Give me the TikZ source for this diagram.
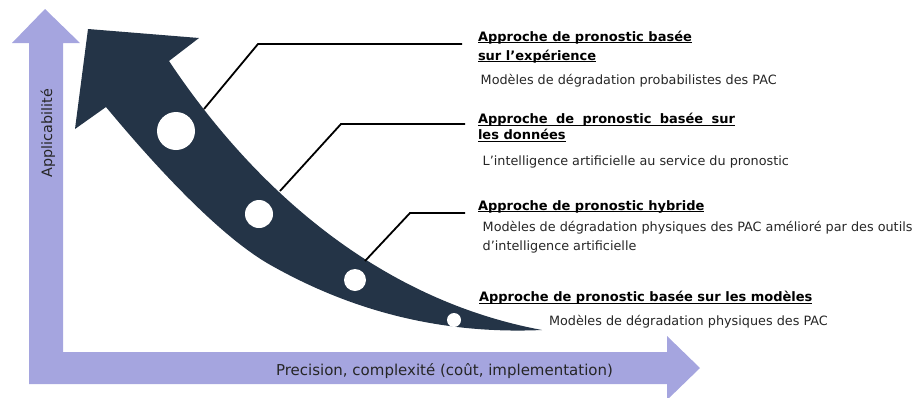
\documentclass[tikz,border=0pt]{standalone}
\usepackage{fontspec}
\setmainfont{DejaVu Sans}
\definecolor{navy}{HTML}{243447}
\definecolor{lav}{HTML}{A5A5DF}
\definecolor{txt}{HTML}{262626}
\newcommand\myul[1]{\setbox0\hbox{#1}\rlap{\rule[-2.2pt]{\wd0}{0.9pt}}\box0}
\begin{document}
\begin{tikzpicture}[x=1pt,y=-1pt,
  every node/.style={inner sep=0pt,outer sep=0pt},
  head/.style={anchor=base west,font=\bfseries\fontsize{13}{15}\selectfont,text=black},
  desc/.style={anchor=base west,font=\fontsize{12.8}{15}\selectfont,text=txt},
  conn/.style={draw=black,line width=1.8pt},
  dot/.style={circle,fill=white,draw=none}]
\useasboundingbox (0,0) rectangle (919,397);
% L-shaped axes
\fill[lav] (45,9) -- (80,43) -- (63,43) -- (63,352) -- (667,352) -- (667,336)
  -- (700,368) -- (667,400) -- (667,384) -- (29,384) -- (29,43) -- (12,43) -- cycle;
\node[anchor=base west,rotate=90,font=\fontsize{14.3}{16}\selectfont,text=txt] (ylab) at (52,177) {Applicabilité};
\node[anchor=base west,font=\fontsize{15}{17}\selectfont,text=txt] (xlab) at (276,375) {Precision, complexité (coût, implementation)};
% big curved arrow
\fill[navy] (106,107) -- (75,129) -- (88,29) -- (199,38) -- (169,61)
  .. controls (255,190) and (380,300) .. (542,330)
  .. controls (430,335) and (340,305) .. (267,263)
  .. controls (220,235) and (160,172) .. (106,107) -- cycle;
\node[dot,minimum size=38pt] (d1) at (176,131) {};
\node[dot,minimum size=28pt] (d2) at (259,214) {};
\node[dot,minimum size=22pt] (d3) at (355,280) {};
\node[dot,minimum size=14pt] (d4) at (454,320) {};
% texts
\node[head] (h1a) at (478,41) {\myul{Approche de pronostic basée}};
\node[head] (h1b) at (478,60) {\myul{sur l’expérience}};
\node[desc] (t1) at (480.7,84.3) {Modèles de dégradation probabilistes des PAC};
\node[head] (h2a) at (478,123.3) {\myul{\makebox[257pt][s]{Approche de pronostic basée sur}}};
\node[head] (h2b) at (478,139.3) {\myul{les données}};
\node[desc] (t2) at (482.7,165.7) {L’intelligence artificielle au service du pronostic};
\node[head] (h3) at (478,210) {\myul{Approche de pronostic hybride}};
\node[desc] (t3a) at (482.7,231) {Modèles de dégradation physiques des PAC amélioré par des outils};
\node[desc] (t3b) at (482.7,250) {d’intelligence artificielle};
\node[head] (h4) at (479,301.7) {\myul{Approche de pronostic basée sur les modèles}};
\node[desc] (t4) at (549,325) {Modèles de dégradation physiques des PAC};
% connectors
\coordinate (p1) at (204,109); \coordinate (k1) at (258,44); \coordinate (e1) at (462,44);
\coordinate (p2) at (280,191); \coordinate (k2) at (341,124); \coordinate (e2) at (465,124);
\coordinate (p3) at (365,261); \coordinate (k3) at (410,213); \coordinate (e3) at (465,213);
\draw[conn] (p1) -- (k1) -- (e1);
\draw[conn] (p2) -- (k2) -- (e2);
\draw[conn] (p3) -- (k3) -- (e3);
\end{tikzpicture}
\end{document}
